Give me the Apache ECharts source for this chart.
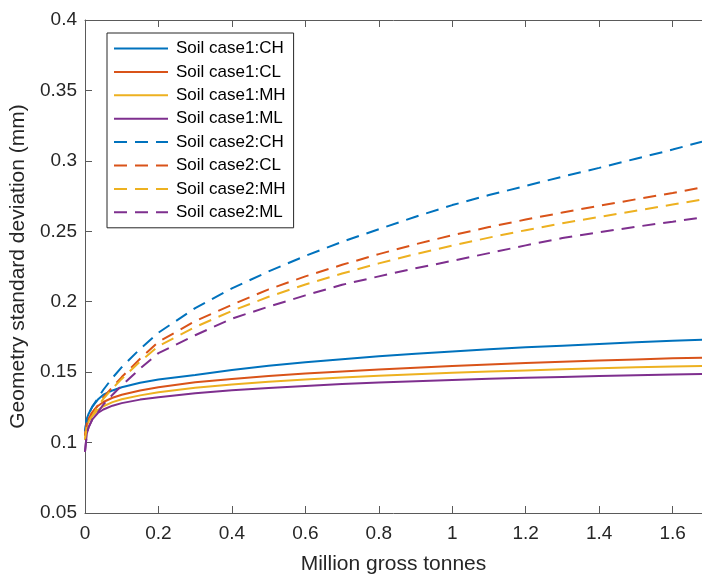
<!DOCTYPE html>
<html>
<head>
<meta charset="utf-8">
<script src="https://cdn.jsdelivr.net/npm/echarts@6/dist/echarts.min.js"></script>
<style>
  html, body { margin: 0; padding: 0; background: #fff; }
  #main { width: 702px; height: 575px; }
</style>
</head>
<body>
<div id="main"></div>
<script>
// million gross tonnes (x positions)
var mgt = [0, 0.005, 0.01, 0.02, 0.035, 0.05, 0.075, 0.1, 0.15, 0.2, 0.3, 0.4, 0.5, 0.6, 0.7, 0.8, 0.9, 1.0, 1.1, 1.2, 1.3, 1.4, 1.5, 1.6, 1.68];

// soil case 1 (solid)
var case1CH = [0.108, 0.117, 0.1205, 0.1255, 0.1305, 0.134, 0.137, 0.1393, 0.1425, 0.1447, 0.148, 0.1515, 0.1545, 0.157, 0.1592, 0.1612, 0.163, 0.1647, 0.1662, 0.1676, 0.1688, 0.17, 0.1712, 0.1722, 0.173];
var case1CL = [0.105, 0.114, 0.117, 0.1215, 0.126, 0.1288, 0.1318, 0.134, 0.137, 0.1392, 0.1428, 0.1452, 0.1472, 0.149, 0.1505, 0.1519, 0.1532, 0.1544, 0.1555, 0.1565, 0.1574, 0.1582, 0.159, 0.1598, 0.1603];
var case1MH = [0.102, 0.112, 0.115, 0.119, 0.123, 0.1258, 0.1287, 0.1307, 0.1335, 0.1357, 0.139, 0.1413, 0.1432, 0.1448, 0.1462, 0.1474, 0.1485, 0.1495, 0.1504, 0.1512, 0.152, 0.1527, 0.1534, 0.154, 0.1544];
var case1ML = [0.0935, 0.1065, 0.111, 0.1165, 0.121, 0.1235, 0.1262, 0.128, 0.1305, 0.1322, 0.135, 0.1371, 0.1388, 0.1402, 0.1415, 0.1426, 0.1436, 0.1445, 0.1453, 0.146, 0.1466, 0.1472, 0.1478, 0.1483, 0.1486];

// soil case 2 (dashed)
var case2CH = [0.108, 0.117, 0.1205, 0.1255, 0.1315, 0.1375, 0.146, 0.1535, 0.1665, 0.178, 0.1955, 0.2095, 0.2215, 0.2325, 0.2425, 0.2515, 0.2603, 0.2686, 0.2757, 0.2822, 0.2888, 0.295, 0.3015, 0.308, 0.3136];
var case2CL = [0.105, 0.114, 0.117, 0.1215, 0.1265, 0.132, 0.1395, 0.1465, 0.1595, 0.1715, 0.1862, 0.1978, 0.2088, 0.218, 0.2262, 0.2338, 0.2408, 0.2472, 0.253, 0.2583, 0.2633, 0.2681, 0.2727, 0.2772, 0.2812];
var case2MH = [0.102, 0.112, 0.115, 0.119, 0.1255, 0.131, 0.1385, 0.1452, 0.1575, 0.1685, 0.182, 0.1935, 0.2035, 0.2122, 0.22, 0.2272, 0.2338, 0.2398, 0.2455, 0.2508, 0.2557, 0.2602, 0.2646, 0.269, 0.2725];
var case2ML = [0.0935, 0.1065, 0.111, 0.1165, 0.1215, 0.127, 0.134, 0.1405, 0.1525, 0.1635, 0.1762, 0.188, 0.1965, 0.2045, 0.212, 0.218, 0.2237, 0.229, 0.2345, 0.24, 0.2452, 0.2493, 0.2532, 0.2568, 0.2598];

var names = ['Soil case1:CH', 'Soil case1:CL', 'Soil case1:MH', 'Soil case1:ML',
             'Soil case2:CH', 'Soil case2:CL', 'Soil case2:MH', 'Soil case2:ML'];
var allData = [case1CH, case1CL, case1MH, case1ML, case2CH, case2CL, case2MH, case2ML];
var colors = ['#0072BD', '#D95319', '#EDB120', '#7E2F8E'];

var font = 'Liberation Sans, Arial, sans-serif';
var axisGray = '#5a5a5a';

function pairs(ys) {
    return mgt.map(function (x, i) { return [x, ys[i]]; });
}

var series = allData.map(function (ys, i) {
    return {
        name: names[i],
        type: 'line',
        symbol: 'none',
        data: pairs(ys),
        lineStyle: {
            width: 2,
            color: colors[i % 4],
            type: i < 4 ? 'solid' : [13, 8]
        },
        itemStyle: { color: colors[i % 4] }
    };
});

var chart = echarts.init(document.getElementById('main'));
chart.setOption({
    animation: false,
    backgroundColor: '#fff',
    grid: { left: 85, top: 20, right: 0, bottom: 62, outerBoundsMode: 'none' },
    legend: {
        orient: 'vertical',
        left: 107,
        top: 33,
        itemWidth: 54,
        itemHeight: 14,
        itemGap: 6.4,
        padding: [7, 8, 7, 6],
        borderColor: '#262626',
        borderWidth: 1,
        backgroundColor: '#fff',
        itemStyle: { opacity: 0 },
        textStyle: { fontFamily: font, fontSize: 17, color: '#000', padding: [0, 0, 0, 3] },
        data: names
    },
    xAxis: [{
        type: 'value',
        min: 0,
        max: 1.68,
        interval: 0.2,
        name: 'Million gross tonnes',
        nameLocation: 'middle',
        nameGap: 41,
        nameTextStyle: { fontFamily: font, fontSize: 21, color: '#262626' },
        axisLine: { lineStyle: { color: axisGray, width: 1 } },
        axisTick: { inside: true, length: 7, lineStyle: { color: axisGray } },
        axisLabel: { fontFamily: font, fontSize: 19, color: '#262626', margin: 11, showMaxLabel: false },
        splitLine: { show: false }
    }, {
        type: 'value',
        position: 'top',
        min: 0,
        max: 1.68,
        interval: 0.2,
        axisLine: { show: true, lineStyle: { color: axisGray, width: 1 } },
        axisTick: { inside: true, length: 7, lineStyle: { color: axisGray } },
        axisLabel: { show: false },
        splitLine: { show: false }
    }],
    yAxis: {
        type: 'value',
        min: 0.05,
        max: 0.4,
        interval: 0.05,
        name: 'Geometry standard deviation (mm)',
        nameLocation: 'middle',
        nameGap: 50,
        nameTextStyle: { fontFamily: font, fontSize: 21, color: '#262626' },
        axisLine: { show: true, lineStyle: { color: axisGray, width: 1 } },
        axisTick: { show: true, inside: true, length: 7, lineStyle: { color: axisGray } },
        axisLabel: { fontFamily: font, fontSize: 19, color: '#262626', margin: 8 },
        splitLine: { show: false }
    },
    series: series
});
</script>
</body>
</html>
